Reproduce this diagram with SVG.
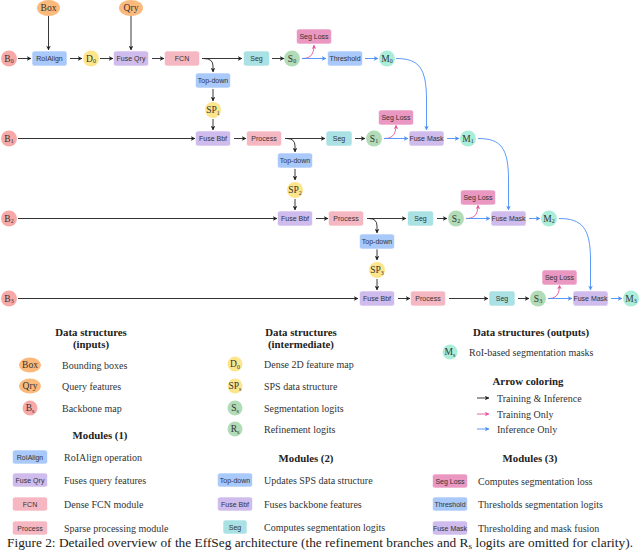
<svg xmlns="http://www.w3.org/2000/svg" width="640" height="550" viewBox="0 0 640 550">
<style>
.bg{fill:#ffffff}
.inp{fill:#f7a9a8}.orng{fill:#fbb97b}.blu{fill:#a9c9fa}.yel{fill:#fde58c}.pur{fill:#cfbbec}
.pnk{fill:#f5b8c2}.teal{fill:#a9e1e4}.grn{fill:#b1dcb7}.loss{fill:#ea97c1}.mint{fill:#aaeeda}
rect{stroke:#ffffff;stroke-width:0.6}
.n{font-family:"Liberation Sans","DejaVu Sans",sans-serif;font-size:7px;fill:#333;text-anchor:middle}
.c{font-family:"Liberation Serif","DejaVu Serif",serif;font-size:9.5px;fill:#333;text-anchor:middle}
.sub{font-size:6px}
.lg{font-family:"Liberation Serif","DejaVu Serif",serif;font-size:10px;fill:#333}
.h{font-family:"Liberation Serif","DejaVu Serif",serif;font-size:10.8px;font-weight:bold;fill:#222;text-anchor:middle}
.cap{font-family:"Liberation Serif","DejaVu Serif",serif;font-size:13px;fill:#222}
.k{fill:none;stroke:#222;stroke-width:0.9;marker-end:url(#ak)}
.kl{fill:none;stroke:#333;stroke-width:1.1;marker-end:url(#ak)}
.p{fill:none;stroke:#e8559d;stroke-width:0.9;marker-end:url(#ap)}
.b{fill:none;stroke:#4a8ff7;stroke-width:0.9;marker-end:url(#ab)}
</style>
<defs>
<marker id="ak" viewBox="0 0 6 6" refX="5.5" refY="3" markerWidth="4.5" markerHeight="4.5" markerUnits="userSpaceOnUse" orient="auto"><path d="M0,0 L6,3 L0,6 L1.5,3 z" fill="#222"/></marker>
<marker id="ap" viewBox="0 0 6 6" refX="5.5" refY="3" markerWidth="4.5" markerHeight="4.5" markerUnits="userSpaceOnUse" orient="auto"><path d="M0,0 L6,3 L0,6 L1.5,3 z" fill="#e8559d"/></marker>
<marker id="ab" viewBox="0 0 6 6" refX="5.5" refY="3" markerWidth="4.5" markerHeight="4.5" markerUnits="userSpaceOnUse" orient="auto"><path d="M0,0 L6,3 L0,6 L1.5,3 z" fill="#4a8ff7"/></marker>
</defs>
<rect class="bg" x="0" y="0" width="640" height="550" style="stroke:none"/>

<g id="connectors">
<path class="k" d="M48.5 16 V50"/>
<path class="k" d="M131 16 V50"/>
<path class="k" d="M18 58.5 H31"/>
<path class="k" d="M70 58.5 H82"/>
<path class="k" d="M100 58.5 H113"/>
<path class="k" d="M152 58.5 H164"/>
<path class="k" d="M202 58.5 H242"/>
<path class="k" d="M204 58.5 Q213 58.5 213 66 V72"/>
<path class="k" d="M213 89 V101"/>
<path class="k" d="M272 58.5 H284"/>
<path class="p" d="M302 58.5 C309 58.5 314 56 314 45"/>
<path class="b" d="M302 58.5 H326"/>
<path class="b" d="M365 58.5 H378"/>
<path class="b" d="M396 58.5 C419 58.5 426.5 68 426.5 100 V130"/>

<path class="kl" d="M18 138.5 H195"/>
<path class="k" d="M213 119 V130"/>
<path class="k" d="M234 138.5 H246"/>
<path class="k" d="M285 138.5 H325"/>
<path class="k" d="M287 138.5 Q295 138.5 295 146 V152"/>
<path class="k" d="M295 169 V180"/>
<path class="k" d="M295 199 V210"/>
<path class="k" d="M355 138.5 H365"/>
<path class="p" d="M384 138.5 C391 138.5 396 136 396 125"/>
<path class="b" d="M384 138.5 H408"/>
<path class="b" d="M447 138.5 H459"/>
<path class="b" d="M478 138.5 C501 138.5 508.5 148 508.5 180 V210"/>

<path class="kl" d="M18 218.5 H277"/>
<path class="k" d="M316 218.5 H328"/>
<path class="k" d="M367 218.5 H406"/>
<path class="k" d="M369 218.5 Q377 218.5 377 226 V233"/>
<path class="k" d="M377 249 V260"/>
<path class="k" d="M377 279 V290"/>
<path class="k" d="M437 218.5 H447"/>
<path class="p" d="M466 218.5 C473 218.5 478 216 478 205"/>
<path class="b" d="M466 218.5 H490"/>
<path class="b" d="M529 218.5 H540"/>
<path class="b" d="M559 218.5 C582 218.5 590.5 228 590.5 260 V290"/>

<path class="kl" d="M18 298.5 H358"/>
<path class="k" d="M398 298.5 H410"/>
<path class="k" d="M449 298.5 H488"/>
<path class="k" d="M518 298.5 H529"/>
<path class="p" d="M548 298.5 C555 298.5 559.5 296 559.5 285"/>
<path class="b" d="M548 298.5 H572"/>
<path class="b" d="M611 298.5 H622"/>
</g>

<!-- Row 0 -->
<g id="box"><ellipse class="orng" cx="48.5" cy="8" rx="11.5" ry="8"/><text class="c" x="48.5" y="11">Box</text></g>
<g id="qry"><ellipse class="orng" cx="131" cy="8" rx="12" ry="8"/><text class="c" x="131" y="11">Qry</text></g>
<g id="b0"><circle class="inp" cx="9" cy="58.5" r="8"/><text class="c" x="9" y="61.5">B<tspan class="sub" dy="1.5">0</tspan></text></g>
<g id="roialign"><rect class="blu" x="32" y="51" width="35" height="15" rx="2.5"/><text class="n" x="49.5" y="61">RoIAlign</text></g>
<g id="d0"><circle class="yel" cx="91" cy="58.5" r="8"/><text class="c" x="91" y="61.5">D<tspan class="sub" dy="1.5">0</tspan></text></g>
<g id="fuseqry"><rect class="pur" x="113.5" y="51" width="35" height="15" rx="2.5"/><text class="n" x="131" y="61">Fuse Qry</text></g>
<g id="fcn"><rect class="pnk" x="164.5" y="51" width="35" height="15" rx="2.5"/><text class="n" x="182" y="61">FCN</text></g>
<g id="topdown0"><rect class="blu" x="195.5" y="73" width="35" height="15" rx="2.5"/><text class="n" x="213" y="83">Top-down</text></g>
<g id="sp1"><circle class="yel" cx="213" cy="110" r="8"/><text class="c" x="213" y="113">SP<tspan class="sub" dy="1.5">1</tspan></text></g>
<g id="seg0"><rect class="teal" x="243.5" y="51" width="26" height="15" rx="2.5"/><text class="n" x="256.5" y="61">Seg</text></g>
<g id="s0"><circle class="grn" cx="292" cy="58.5" r="8"/><text class="c" x="292" y="61.5">S<tspan class="sub" dy="1.5">0</tspan></text></g>
<g id="segloss0"><rect class="loss" x="296.5" y="29" width="35" height="15" rx="2.5"/><text class="n" x="314" y="39">Seg Loss</text></g>
<g id="threshold"><rect class="blu" x="327.5" y="51" width="35" height="15" rx="2.5"/><text class="n" x="345" y="61">Threshold</text></g>
<g id="m0"><circle class="mint" cx="387" cy="58.5" r="8"/><text class="c" x="387" y="61.5">M<tspan class="sub" dy="1.5">0</tspan></text></g>

<!-- Row 1 -->
<g id="b1"><circle class="inp" cx="9" cy="138.5" r="8"/><text class="c" x="9" y="141.5">B<tspan class="sub" dy="1.5">1</tspan></text></g>
<g id="fusebbf1"><rect class="pur" x="195.5" y="131" width="35" height="15" rx="2.5"/><text class="n" x="213" y="141">Fuse Bbf</text></g>
<g id="process1"><rect class="pnk" x="246.5" y="131" width="35" height="15" rx="2.5"/><text class="n" x="264" y="141">Process</text></g>
<g id="topdown1"><rect class="blu" x="277.5" y="153" width="35" height="15" rx="2.5"/><text class="n" x="295" y="163">Top-down</text></g>
<g id="sp2"><circle class="yel" cx="295" cy="190" r="8"/><text class="c" x="295" y="193">SP<tspan class="sub" dy="1.5">2</tspan></text></g>
<g id="seg1"><rect class="teal" x="326" y="131" width="26" height="15" rx="2.5"/><text class="n" x="339" y="141">Seg</text></g>
<g id="s1"><circle class="grn" cx="374" cy="138.5" r="8"/><text class="c" x="374" y="141.5">S<tspan class="sub" dy="1.5">1</tspan></text></g>
<g id="segloss1"><rect class="loss" x="378.5" y="110" width="35" height="15" rx="2.5"/><text class="n" x="396" y="120">Seg Loss</text></g>
<g id="fusemask1"><rect class="pur" x="409" y="131" width="35" height="15" rx="2.5"/><text class="n" x="426.5" y="141">Fuse Mask</text></g>
<g id="m1"><circle class="mint" cx="468" cy="138.5" r="8"/><text class="c" x="468" y="141.5">M<tspan class="sub" dy="1.5">1</tspan></text></g>

<!-- Row 2 -->
<g id="b2"><circle class="inp" cx="9" cy="218.5" r="8"/><text class="c" x="9" y="221.5">B<tspan class="sub" dy="1.5">2</tspan></text></g>
<g id="fusebbf2"><rect class="pur" x="277.5" y="211" width="35" height="15" rx="2.5"/><text class="n" x="295" y="221">Fuse Bbf</text></g>
<g id="process2"><rect class="pnk" x="328.5" y="211" width="35" height="15" rx="2.5"/><text class="n" x="346" y="221">Process</text></g>
<g id="topdown2"><rect class="blu" x="359.5" y="234" width="35" height="15" rx="2.5"/><text class="n" x="377" y="244">Top-down</text></g>
<g id="sp3"><circle class="yel" cx="377" cy="270" r="8"/><text class="c" x="377" y="273">SP<tspan class="sub" dy="1.5">3</tspan></text></g>
<g id="seg2"><rect class="teal" x="407.5" y="211" width="26" height="15" rx="2.5"/><text class="n" x="420.5" y="221">Seg</text></g>
<g id="s2"><circle class="grn" cx="456" cy="218.5" r="8"/><text class="c" x="456" y="221.5">S<tspan class="sub" dy="1.5">2</tspan></text></g>
<g id="segloss2"><rect class="loss" x="460.5" y="190" width="35" height="15" rx="2.5"/><text class="n" x="478" y="200">Seg Loss</text></g>
<g id="fusemask2"><rect class="pur" x="491" y="211" width="35" height="15" rx="2.5"/><text class="n" x="508.5" y="221">Fuse Mask</text></g>
<g id="m2"><circle class="mint" cx="549" cy="218.5" r="8"/><text class="c" x="549" y="221.5">M<tspan class="sub" dy="1.5">2</tspan></text></g>

<!-- Row 3 -->
<g id="b3"><circle class="inp" cx="9" cy="298.5" r="8"/><text class="c" x="9" y="301.5">B<tspan class="sub" dy="1.5">3</tspan></text></g>
<g id="fusebbf3"><rect class="pur" x="359.5" y="291" width="35" height="15" rx="2.5"/><text class="n" x="377" y="301">Fuse Bbf</text></g>
<g id="process3"><rect class="pnk" x="410.5" y="291" width="35" height="15" rx="2.5"/><text class="n" x="428" y="301">Process</text></g>
<g id="seg3"><rect class="teal" x="489" y="291" width="26" height="15" rx="2.5"/><text class="n" x="502" y="301">Seg</text></g>
<g id="s3"><circle class="grn" cx="538" cy="298.5" r="8"/><text class="c" x="538" y="301.5">S<tspan class="sub" dy="1.5">3</tspan></text></g>
<g id="segloss3"><rect class="loss" x="542" y="270" width="35" height="15" rx="2.5"/><text class="n" x="559.5" y="280">Seg Loss</text></g>
<g id="fusemask3"><rect class="pur" x="573" y="291" width="35" height="15" rx="2.5"/><text class="n" x="590.5" y="301">Fuse Mask</text></g>
<g id="m3"><circle class="mint" cx="631" cy="298.5" r="8"/><text class="c" x="631" y="301.5">M<tspan class="sub" dy="1.5">3</tspan></text></g>

<!-- Legend column 1 -->
<g id="legend1">
<text class="h" x="91" y="336">Data structures</text>
<text class="h" x="91" y="348">(inputs)</text>
<ellipse class="orng" cx="30" cy="365" rx="11" ry="7.5"/><text class="c" x="30" y="368">Box</text>
<text class="lg" x="62" y="368.5">Bounding boxes</text>
<ellipse class="orng" cx="30" cy="386" rx="11" ry="7.5"/><text class="c" x="30" y="389">Qry</text>
<text class="lg" x="62" y="389.5">Query features</text>
<circle class="inp" cx="30" cy="408" r="7.5"/><text class="c" x="30" y="411">B<tspan class="sub" dy="1.5">s</tspan></text>
<text class="lg" x="62" y="411.5">Backbone map</text>
<text class="h" x="100" y="439">Modules (1)</text>
<rect class="blu" x="12.5" y="450" width="35" height="14" rx="2.5"/><text class="n" x="30" y="459.5">RoIAlign</text>
<text class="lg" x="64" y="460.5">RoIAlign operation</text>
<rect class="pur" x="12.5" y="473" width="35" height="14" rx="2.5"/><text class="n" x="30" y="482.5">Fuse Qry</text>
<text class="lg" x="64" y="483.5">Fuses query features</text>
<rect class="pnk" x="12.5" y="497" width="35" height="14" rx="2.5"/><text class="n" x="30" y="506.5">FCN</text>
<text class="lg" x="64" y="507.5">Dense FCN module</text>
<rect class="pnk" x="12.5" y="521" width="35" height="14" rx="2.5"/><text class="n" x="30" y="530.5">Process</text>
<text class="lg" x="64" y="531.5">Sparse processing module</text>
</g>

<!-- Legend column 2 -->
<g id="legend2">
<text class="h" x="301" y="336">Data structures</text>
<text class="h" x="301" y="348">(intermediate)</text>
<circle class="yel" cx="235" cy="364" r="7.5"/><text class="c" x="235" y="367">D<tspan class="sub" dy="1.5">0</tspan></text>
<text class="lg" x="264" y="367.5">Dense 2D feature map</text>
<circle class="yel" cx="235" cy="386" r="7.5"/><text class="c" x="235" y="389">SP<tspan class="sub" dy="1.5">s</tspan></text>
<text class="lg" x="264" y="389.5">SPS data structure</text>
<circle class="grn" cx="235" cy="408" r="7.5"/><text class="c" x="235" y="411">S<tspan class="sub" dy="1.5">s</tspan></text>
<text class="lg" x="264" y="411.5">Segmentation logits</text>
<circle class="grn" cx="235" cy="429" r="7.5"/><text class="c" x="235" y="432">R<tspan class="sub" dy="1.5">s</tspan></text>
<text class="lg" x="264" y="432.5">Refinement logits</text>
<text class="h" x="306" y="462">Modules (2)</text>
<rect class="blu" x="217.5" y="473" width="35" height="14" rx="2.5"/><text class="n" x="235" y="482.5">Top-down</text>
<text class="lg" x="264" y="483.5">Updates SPS data structure</text>
<rect class="pur" x="217.5" y="497" width="35" height="14" rx="2.5"/><text class="n" x="235" y="506.5">Fuse Bbf</text>
<text class="lg" x="264" y="507.5">Fuses backbone features</text>
<rect class="teal" x="223" y="520" width="24" height="14" rx="2.5"/><text class="n" x="235" y="529.5">Seg</text>
<text class="lg" x="264" y="530.5">Computes segmentation logits</text>
</g>

<!-- Legend column 3 -->
<g id="legend3">
<text class="h" x="531" y="336">Data structures (outputs)</text>
<circle class="mint" cx="450" cy="352" r="7.5"/><text class="c" x="450" y="355">M<tspan class="sub" dy="1.5">s</tspan></text>
<text class="lg" x="469" y="355.5">RoI-based segmentation masks</text>
<text class="h" x="528" y="385">Arrow coloring</text>
<path class="k" d="M477 398 H489"/>
<text class="lg" x="497" y="401.5">Training &amp; Inference</text>
<path class="p" d="M477 414 H489"/>
<text class="lg" x="497" y="417.5">Training Only</text>
<path class="b" d="M477 429 H489"/>
<text class="lg" x="497" y="432.5">Inference Only</text>
<text class="h" x="530" y="462">Modules (3)</text>
<rect class="loss" x="432.5" y="474" width="35" height="14" rx="2.5"/><text class="n" x="450" y="483.5">Seg Loss</text>
<text class="lg" x="478" y="484.5">Computes segmentation loss</text>
<rect class="blu" x="432.5" y="497" width="35" height="14" rx="2.5"/><text class="n" x="450" y="506.5">Threshold</text>
<text class="lg" x="478" y="507.5">Thresholds segmentation logits</text>
<rect class="pur" x="432.5" y="521" width="35" height="14" rx="2.5"/><text class="n" x="450" y="530.5">Fuse Mask</text>
<text class="lg" x="478" y="531.5">Thresholding and mask fusion</text>
</g>

<text class="cap" x="7" y="546.5" textLength="626" lengthAdjust="spacingAndGlyphs">Figure 2: Detailed overview of the EffSeg architecture (the refinement branches and R<tspan font-size="9" dy="2">s</tspan><tspan dy="-2"> logits are omitted for clarity).</tspan></text>
</svg>
